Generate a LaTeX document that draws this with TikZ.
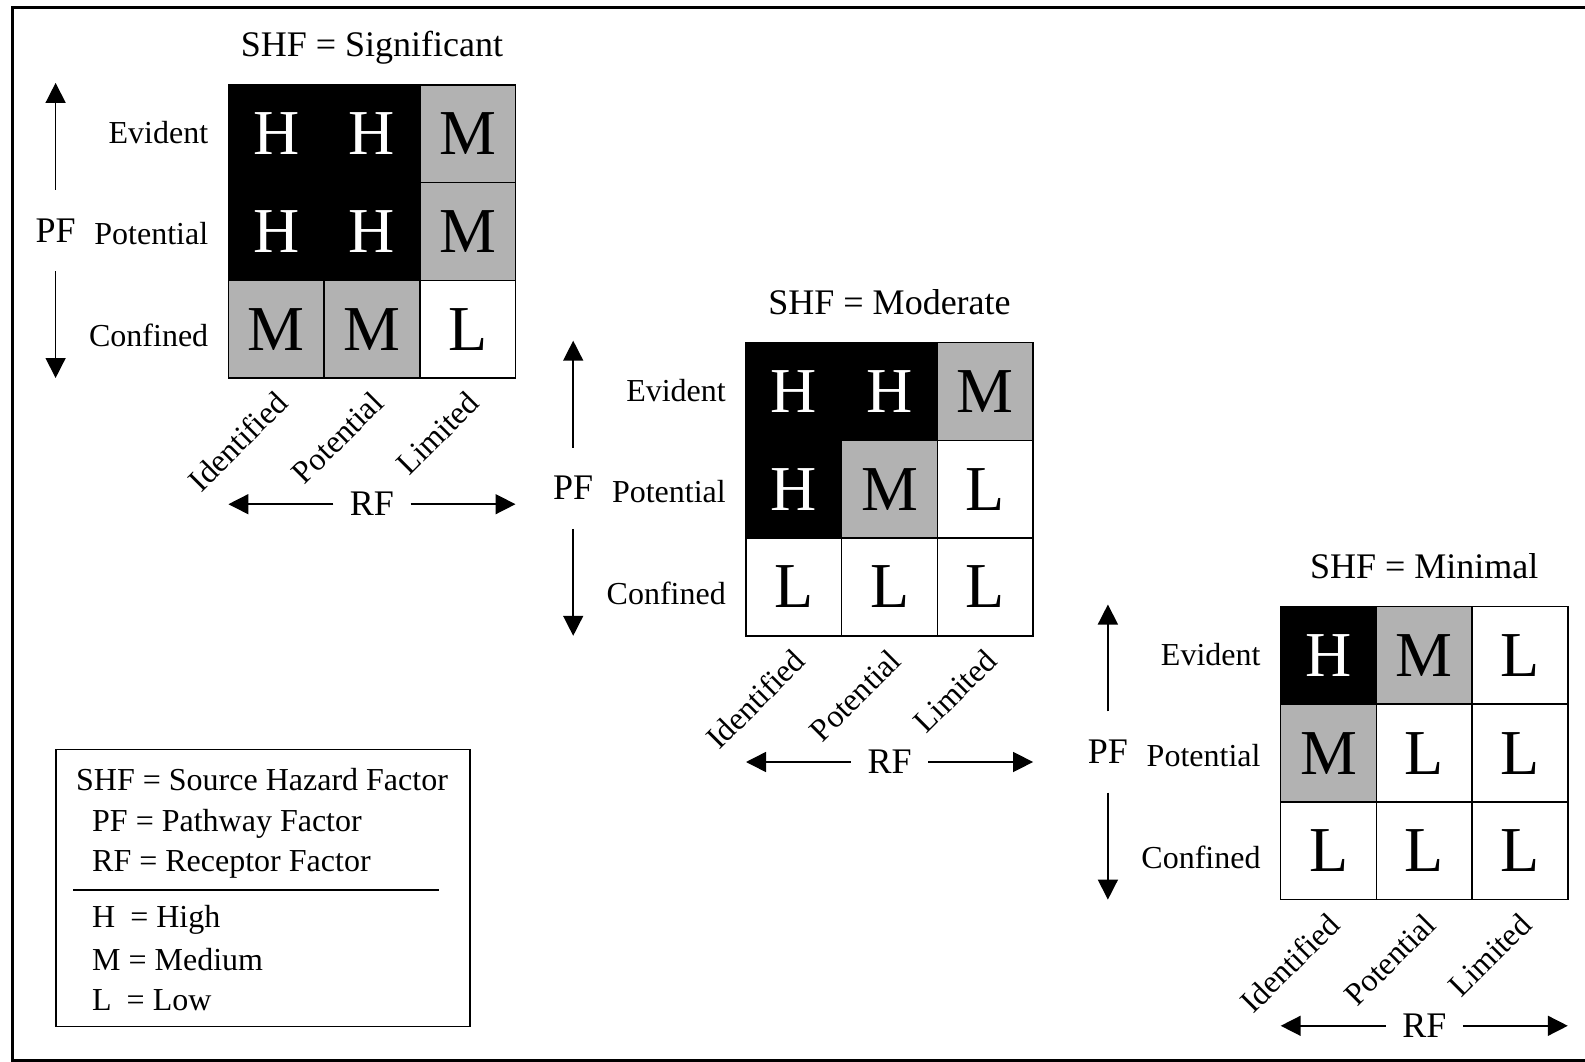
\documentclass[tikz,border=0pt]{standalone}
\usepackage{fontspec}
\setmainfont{Liberation Serif}
\usetikzlibrary{arrows.meta}
\definecolor{midgray}{RGB}{178,178,178}
\newcommand\fTitle{\fontsize{36}{40}\selectfont}
\newcommand\fLab{\fontsize{32}{36}\selectfont}
\newcommand\fBig{\fontsize{64}{70}\selectfont}
\newcommand\fAx{\fontsize{36}{40}\selectfont}
\tikzset{
  cellbox/.style={draw=black, line width=1.5pt, minimum width=95.7pt, minimum height=97.7pt, inner sep=0pt, font=\fBig},
  cellH/.style={fill=black, text=white},
  cellM/.style={fill=midgray},
  cellL/.style={fill=white},
  rowlab/.style={font=\fLab, inner sep=0pt, anchor=base east},
  collab/.style={font=\fLab, inner sep=0pt, rotate=45, anchor=base east},
  titlelab/.style={font=\fTitle, inner sep=0pt, anchor=base},
  axlab/.style={font=\fAx, inner sep=0pt},
  arr/.style={line width=1.5pt, -{Triangle[length=20pt,width=20pt]}},
  legtext/.style={font=\fLab, inner sep=0pt, anchor=base west},
}
\newcommand\matgrid[5]{%
  \begin{scope}[shift={(#2,#3)}]
    \foreach \r/\c/\v in {#5}{
      \node[cellbox, cell\v] (#1-\r-\c) at ({(\c+0.5)*95.7},{(\r+0.5)*97.7}) {\raisebox{-2.5pt}{\v}};
    }
    \node[titlelab] (#1-title) at (143.55,-28.5) {SHF = #4};
    \node[rowlab] (#1-ev) at (-20,59) {Evident};
    \node[rowlab] (#1-po) at (-20,160) {Potential};
    \node[rowlab] (#1-co) at (-20,262) {Confined};
    \node[collab] (#1-ci) at (61.35,320.1) {Identified};
    \node[collab] (#1-cp) at (157.05,320.1) {Potential};
    \node[collab] (#1-cl) at (252.75,320.1) {Limited};
    \node[axlab, minimum height=81pt] (#1-pf) at (-172.8,145.5) {PF};
    \coordinate (#1-pfup) at (-172.8,-2);
    \coordinate (#1-pfdn) at (-172.8,293.1);
    \draw[arr] (#1-pf) -- (#1-pfup);
    \draw[arr] (#1-pf) -- (#1-pfdn);
    \node[axlab, minimum width=77pt] (#1-rf) at (143.55,419.3) {RF};
    \coordinate (#1-rfl) at (0,419.3);
    \coordinate (#1-rfr) at (287.1,419.3);
    \draw[arr] (#1-rf) -- (#1-rfl);
    \draw[arr] (#1-rf) -- (#1-rfr);
  \end{scope}}
\begin{document}
\begin{tikzpicture}[x=1pt,y=-1pt]
  \useasboundingbox (0,0) rectangle (1585,1062);
  \clip (0,0) rectangle (1585,1062);
  \fill[white] (0,0) rectangle (1585,1062);
  \draw[line width=3.5pt] (1600,7.5) -- (12.5,7.5) -- (12.5,1060.5) -- (1600,1060.5);

  \matgrid{g1}{228.4}{84.9}{Significant}{0/0/H,0/1/H,0/2/M,1/0/H,1/1/H,1/2/M,2/0/M,2/1/M,2/2/L}
  \matgrid{g2}{746.0}{342.7}{Moderate}{0/0/H,0/1/H,0/2/M,1/0/H,1/1/M,1/2/L,2/0/L,2/1/L,2/2/L}
  \matgrid{g3}{1280.7}{606.5}{Minimal}{0/0/H,0/1/M,0/2/L,1/0/M,1/1/L,1/2/L,2/0/L,2/1/L,2/2/L}

  % legend
  \node[draw, line width=1.5pt, anchor=north west, minimum width=414.3pt, minimum height=277pt, inner sep=0pt] (legend) at (55,748.5) {};
  \node[legtext] (l1) at (76,790.5) {SHF = Source Hazard Factor};
  \node[legtext] (l2) at (92,831.7) {PF = Pathway Factor};
  \node[legtext] (l3) at (92,871.7) {RF = Receptor Factor};
  \coordinate (rulel) at (73.3,890);
  \coordinate (ruler) at (439.3,890);
  \draw[line width=1.5pt] (rulel) -- (ruler);
  \node[legtext] (l4) at (92,927.3) {H\hspace{15pt}= High};
  \node[legtext] (l5) at (92,970.7) {M = Medium};
  \node[legtext] (l6) at (92,1010) {L\hspace{15pt}= Low};
\end{tikzpicture}
\end{document}
